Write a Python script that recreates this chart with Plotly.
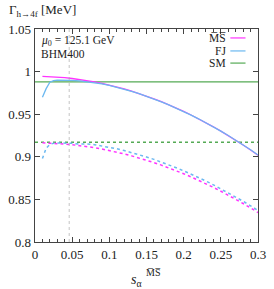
import plotly.graph_objects as go

# ---- data ----
s_vals = [0.01, 0.02, 0.03, 0.04, 0.05, 0.06, 0.07, 0.08, 0.09, 0.10,
          0.11, 0.12, 0.13, 0.14, 0.15, 0.16, 0.17, 0.18, 0.19, 0.20,
          0.21, 0.22, 0.23, 0.24, 0.25, 0.26, 0.27, 0.28, 0.29, 0.30]
ms_solid = [0.9944, 0.9941, 0.9936, 0.9929, 0.9919, 0.9908, 0.9895, 0.9879, 0.9862, 0.9842,
            0.9820, 0.9797, 0.9771, 0.9743, 0.9713, 0.9681, 0.9647, 0.9611, 0.9573, 0.9533,
            0.9491, 0.9447, 0.9400, 0.9352, 0.9301, 0.9249, 0.9194, 0.9138, 0.9079, 0.9018]
ms_dotted = [0.9164, 0.9161, 0.9157, 0.9150, 0.9142, 0.9132, 0.9120, 0.9107, 0.9091, 0.9074,
             0.9055, 0.9034, 0.9011, 0.8987, 0.8960, 0.8932, 0.8902, 0.8870, 0.8836, 0.8801,
             0.8764, 0.8725, 0.8684, 0.8641, 0.8596, 0.8550, 0.8502, 0.8452, 0.8400, 0.8346]

fj_s = [0.01, 0.015, 0.02, 0.025, 0.03, 0.04, 0.05, 0.06, 0.07, 0.08, 0.09, 0.10,
        0.11, 0.12, 0.13, 0.14, 0.15, 0.16, 0.17, 0.18, 0.19, 0.20,
        0.21, 0.22, 0.23, 0.24, 0.25, 0.26, 0.27, 0.28, 0.29, 0.30]
fj_solid = [0.970, 0.980, 0.9875, 0.9895, 0.9900, 0.9902, 0.9898, 0.9892, 0.9883, 0.9872, 0.9857, 0.9838,
            0.9817, 0.9794, 0.9768, 0.9741, 0.9711, 0.9679, 0.9645, 0.9610, 0.9572, 0.9532,
            0.9490, 0.9446, 0.9400, 0.9352, 0.9302, 0.9250, 0.9196, 0.9140, 0.9082, 0.9022]
fj_dotted = [0.898, 0.910, 0.9145, 0.9160, 0.9163, 0.9163, 0.9158, 0.9150, 0.9152, 0.9142, 0.9128, 0.9113,
             0.9094, 0.9073, 0.9050, 0.9025, 0.8998, 0.8970, 0.8939, 0.8906, 0.8871, 0.8835,
             0.8797, 0.8757, 0.8715, 0.8671, 0.8625, 0.8578, 0.8529, 0.8478, 0.8425, 0.8370]

sm_s = [0.0, 0.3]
sm_solid = [0.988, 0.988]
sm_dotted = [0.917, 0.917]

s_marker = 0.046
x_ticks = [0, 0.05, 0.1, 0.15, 0.2, 0.25, 0.3]
x_ticklabels = ["0", "0.05", "0.1", "0.15", "0.2", "0.25", "0.3"]
y_ticks = [0.8, 0.85, 0.9, 0.95, 1.0, 1.05]
y_ticklabels = ["0.8", "0.85", "0.9", "0.95", "1", "1.05"]

legend_names = ["M\u0305S\u0305", "FJ", "SM"]

C_MS = "#ff33ff"
C_FJ = "#6bb8f0"
C_SM = "#55aa55"
FONT = "Liberation Serif"

fig = go.Figure()
fig.add_trace(go.Scatter(x=sm_s, y=sm_solid, mode="lines", line=dict(color=C_SM, width=1.3)))
fig.add_trace(go.Scatter(x=sm_s, y=sm_dotted, mode="lines", line=dict(color=C_SM, width=1.5, dash="dot")))
fig.add_trace(go.Scatter(x=s_vals, y=ms_dotted, mode="lines", line=dict(color=C_MS, width=1.5, dash="dot")))
fig.add_trace(go.Scatter(x=fj_s, y=fj_dotted, mode="lines", line=dict(color=C_FJ, width=1.5, dash="dot")))
fig.add_trace(go.Scatter(x=s_vals, y=ms_solid, mode="lines", line=dict(color=C_MS, width=1.3)))
fig.add_trace(go.Scatter(x=fj_s, y=fj_solid, mode="lines", line=dict(color=C_FJ, width=1.3)))

fig.add_vline(x=s_marker, line=dict(color="#aaaaaa", width=0.7, dash="dot"))

axis_common = dict(showgrid=False, zeroline=False, showline=True, linecolor="#444444", linewidth=1.3,
                   mirror="ticks", ticks="inside", ticklen=5, tickcolor="#444444",
                   tickfont=dict(family=FONT, size=13, color="#222222"))
fig.update_xaxes(range=[0, 0.3], tickvals=x_ticks, ticktext=x_ticklabels,
                 minor=dict(dtick=0.01, ticks="inside", ticklen=3, tickcolor="#444444"),
                 **axis_common)
fig.update_yaxes(range=[0.8, 1.05], tickvals=y_ticks, ticktext=y_ticklabels, **axis_common)

annotations = [
    dict(text="\u0393<sub>h\u21924f</sub> [MeV]", x=-0.125, y=1.085, xanchor="left", yanchor="middle",
         font=dict(size=13)),
    dict(text="<i>\u03bc</i><sub>0</sub> = 125.1 GeV", x=0.017, y=0.945, xanchor="left", yanchor="middle",
         font=dict(size=11.5)),
    dict(text="BHM400", x=0.017, y=0.884, xanchor="left", yanchor="middle", font=dict(size=11.5)),
    dict(text="<i>s</i><sub>\u03b1</sub>", x=0.49, y=-0.18, xanchor="right", yanchor="middle",
         font=dict(size=14)),
    dict(text="M\u0305S\u0305", x=0.49, y=-0.145, xanchor="left", yanchor="middle", font=dict(size=10)),
]
leg_y = [0.958, 0.897, 0.840]
leg_c = [C_MS, C_FJ, C_SM]
for name, yy, cc in zip(legend_names, leg_y, leg_c):
    annotations.append(dict(text=name, x=0.866, y=yy, xanchor="right", yanchor="middle", font=dict(size=11.5)))
    fig.add_shape(type="line", xref="paper", yref="paper", x0=0.876, x1=0.944, y0=yy, y1=yy,
                  line=dict(color=cc, width=1.2))
for a in annotations:
    a.update(xref="paper", yref="paper", showarrow=False)
    a["font"].update(family=FONT, color="#222222")
fig.update_layout(annotations=annotations)

fig.update_layout(width=274, height=289, margin=dict(l=32, r=8, t=29, b=47),
                  paper_bgcolor="white", plot_bgcolor="white", showlegend=False,
                  font=dict(family=FONT, color="#222222"))
fig.write_html("out.html", config={"displayModeBar": False, "staticPlot": True},
               post_script="document.body.style.margin='0';document.body.style.overflow='hidden';")
